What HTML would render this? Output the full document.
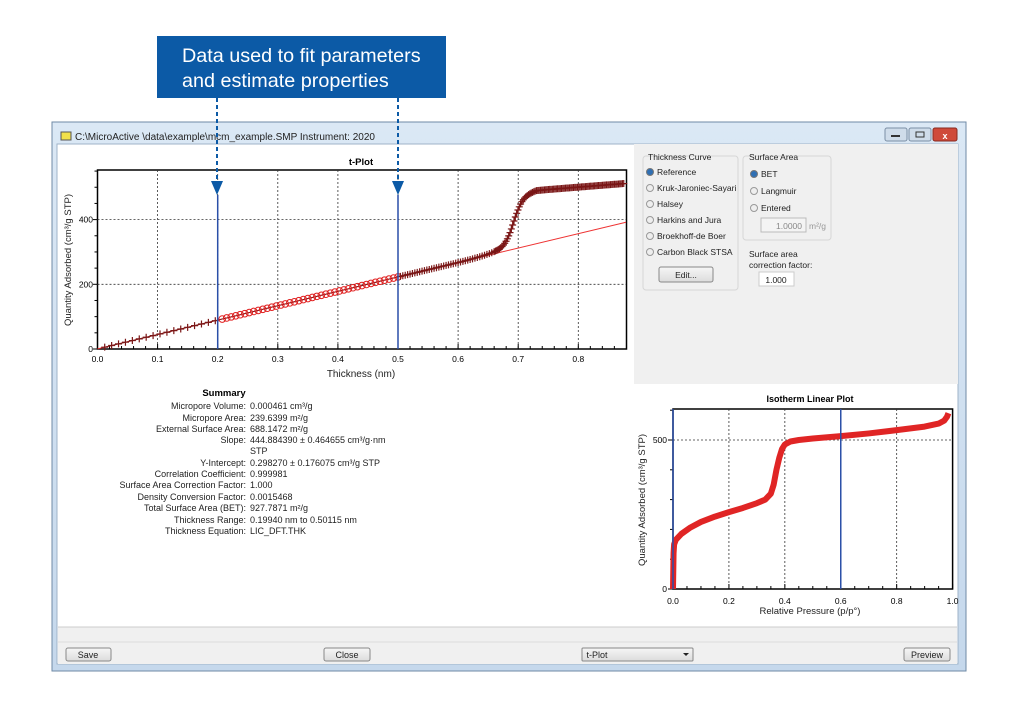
<!DOCTYPE html>
<html><head><meta charset="utf-8"><style>
html,body{margin:0;padding:0;background:#fff;}
body{width:1018px;height:707px;position:relative;overflow:hidden;font-family:"Liberation Sans",Arial,sans-serif;}
svg{position:absolute;left:0;top:0;}
</style></head><body>
<svg id="s" width="1018" height="707" viewBox="0 0 1018 707" font-family="Liberation Sans, Arial, sans-serif">
<defs>
<linearGradient id="tb" x1="0" y1="0" x2="0" y2="1"><stop offset="0" stop-color="#dbe8f5"/><stop offset="1" stop-color="#c5d8ec"/></linearGradient>
<linearGradient id="btn" x1="0" y1="0" x2="0" y2="1"><stop offset="0" stop-color="#f6f6f6"/><stop offset="1" stop-color="#dcdcdc"/></linearGradient>
</defs>
<!-- window -->
<rect x="52" y="122" width="914" height="549" fill="url(#tb)" stroke="#6f8aa6"/>
<rect x="57" y="144" width="901" height="520" fill="#fff" stroke="#9fb3c8"/>
<rect x="61" y="132" width="10" height="8" fill="#f2e04a" stroke="#555" stroke-width="1"/>
<text x="75" y="140" font-size="10" fill="#222">C:\MicroActive \data\example\mcm_example.SMP Instrument: 2020</text>
<rect x="885" y="128" width="22" height="13" rx="2" fill="#cfdcea" stroke="#7b8fa5"/>
<rect x="909" y="128" width="22" height="13" rx="2" fill="#cfdcea" stroke="#7b8fa5"/>
<rect x="933" y="128" width="24" height="13" rx="2" fill="#cf4a3a" stroke="#8a2a20"/>
<rect x="891" y="135" width="9" height="2" fill="#333"/>
<rect x="916" y="132" width="8" height="5" fill="none" stroke="#333"/>
<text x="945" y="139" font-size="9" fill="#fff" text-anchor="middle" font-weight="bold">x</text>
<!-- right panel -->
<rect x="634" y="144" width="324" height="240" fill="#f0f0f0"/>
<rect x="643" y="156" width="95" height="134" rx="3" fill="none" stroke="#d6d6d6"/>
<text x="648" y="160" font-size="8.5" fill="#222">Thickness Curve</text>
<rect x="743" y="156" width="88" height="84" rx="3" fill="none" stroke="#d6d6d6"/>
<text x="749" y="160" font-size="8.5" fill="#222">Surface Area</text>
<g font-size="8.5" fill="#222">
<circle cx="650" cy="172" r="3.5" fill="#2f6fb3" stroke="#777"/><text x="657" y="175">Reference</text>
<circle cx="650" cy="188" r="3.5" fill="#eee" stroke="#999"/><text x="657" y="191">Kruk-Jaroniec-Sayari</text>
<circle cx="650" cy="204" r="3.5" fill="#eee" stroke="#999"/><text x="657" y="207">Halsey</text>
<circle cx="650" cy="220" r="3.5" fill="#eee" stroke="#999"/><text x="657" y="223">Harkins and Jura</text>
<circle cx="650" cy="236" r="3.5" fill="#eee" stroke="#999"/><text x="657" y="239">Broekhoff-de Boer</text>
<circle cx="650" cy="252" r="3.5" fill="#eee" stroke="#999"/><text x="657" y="255">Carbon Black STSA</text>
<rect x="659" y="267" width="54" height="15" rx="2" fill="url(#btn)" stroke="#888"/><text x="686" y="278" text-anchor="middle">Edit...</text>
<circle cx="754" cy="174" r="3.5" fill="#2f6fb3" stroke="#777"/><text x="761" y="177">BET</text>
<circle cx="754" cy="191" r="3.5" fill="#eee" stroke="#999"/><text x="761" y="194">Langmuir</text>
<circle cx="754" cy="208" r="3.5" fill="#eee" stroke="#999"/><text x="761" y="211">Entered</text>
<rect x="761" y="218" width="45" height="14" fill="#f4f4f4" stroke="#bbb"/><text x="802" y="229" text-anchor="end" fill="#888">1.0000</text><text x="809" y="229" fill="#999">m²/g</text>
<text x="749" y="257">Surface area</text><text x="749" y="268">correction factor:</text>
<rect x="759" y="272" width="35" height="14" fill="#fff" stroke="#ccc"/><text x="776" y="283" text-anchor="middle">1.000</text>
</g>
<!-- t-plot -->
<text x="361" y="165" font-size="9.5" font-weight="bold" text-anchor="middle">t-Plot</text>
<g id="tp"></g>
<text x="361" y="377" font-size="10" text-anchor="middle" fill="#222">Thickness (nm)</text>
<text transform="translate(71,260) rotate(-90)" font-size="9.5" text-anchor="middle" fill="#222">Quantity Adsorbed (cm³/g STP)</text>
<!-- isotherm -->
<text x="810" y="402" font-size="9" font-weight="bold" text-anchor="middle">Isotherm Linear Plot</text>
<g id="ip"></g>
<text x="810" y="614" font-size="9.5" text-anchor="middle" fill="#222">Relative Pressure (p/p°)</text>
<text transform="translate(645,500) rotate(-90)" font-size="9.5" text-anchor="middle" fill="#222">Quantity Adsorbed (cm³/g STP)</text>
<!-- summary -->
<text x="224" y="396" font-size="9.5" font-weight="bold" text-anchor="middle">Summary</text>
<g font-size="9" fill="#222">
<g text-anchor="end">
<text x="246" y="409">Micropore Volume:</text>
<text x="246" y="421">Micropore Area:</text>
<text x="246" y="432">External Surface Area:</text>
<text x="246" y="443">Slope:</text>
<text x="246" y="466">Y-Intercept:</text>
<text x="246" y="477">Correlation Coefficient:</text>
<text x="246" y="488">Surface Area Correction Factor:</text>
<text x="246" y="500">Density Conversion Factor:</text>
<text x="246" y="511">Total Surface Area (BET):</text>
<text x="246" y="523">Thickness Range:</text>
<text x="246" y="534">Thickness Equation:</text>
</g>
<text x="250" y="409">0.000461 cm³/g</text>
<text x="250" y="421">239.6399 m²/g</text>
<text x="250" y="432">688.1472 m²/g</text>
<text x="250" y="443">444.884390 ± 0.464655 cm³/g·nm</text>
<text x="250" y="454">STP</text>
<text x="250" y="466">0.298270 ± 0.176075 cm³/g STP</text>
<text x="250" y="477">0.999981</text>
<text x="250" y="488">1.000</text>
<text x="250" y="500">0.0015468</text>
<text x="250" y="511">927.7871 m²/g</text>
<text x="250" y="523">0.19940 nm to 0.50115 nm</text>
<text x="250" y="534">LIC_DFT.THK</text>
</g>
<!-- bottom -->
<rect x="58" y="627" width="899" height="37" fill="#f0f0f0"/>
<line x1="58" y1="627" x2="957" y2="627" stroke="#ccc"/>
<line x1="58" y1="642" x2="957" y2="642" stroke="#ddd"/>
<g font-size="9" fill="#222" text-anchor="middle">
<rect x="66" y="648" width="45" height="13" rx="2" fill="url(#btn)" stroke="#888"/><text x="88" y="658">Save</text>
<rect x="324" y="648" width="46" height="13" rx="2" fill="url(#btn)" stroke="#888"/><text x="347" y="658">Close</text>
<rect x="582" y="648" width="111" height="13" rx="1" fill="url(#btn)" stroke="#888"/><text x="597" y="658">t-Plot</text><path d="M683 653 l6 0 l-3 3z" fill="#222"/>
<rect x="904" y="648" width="46" height="13" rx="2" fill="url(#btn)" stroke="#888"/><text x="927" y="658">Preview</text>
</g>
<!-- callout -->
<rect x="157" y="36" width="289" height="62" fill="#0c5aa6"/>
<text x="182" y="62" font-size="19.8" fill="#fff">Data used to fit parameters</text>
<text x="182" y="87" font-size="19.8" fill="#fff">and estimate properties</text>
<g stroke="#0c5aa6" stroke-width="2" stroke-dasharray="4,3"><line x1="217" y1="98" x2="217" y2="183"/><line x1="398" y1="98" x2="398" y2="183"/></g>
<path d="M211 181 l12 0 l-6 14z M392 181 l12 0 l-6 14z" fill="#0c5aa6"/>
</svg>
<script>
var NS="http://www.w3.org/2000/svg";
function el(p,t,a){var e=document.createElementNS(NS,t);for(var k in a)e.setAttribute(k,a[k]);p.appendChild(e);return e;}
var tp=document.getElementById('tp');
var X=function(t){return 97.5+t*601;},Y=function(v){return 349-v*0.3235;};
el(tp,'rect',{x:97.5,y:170,width:529,height:179,fill:'#fff',stroke:'#000','stroke-width':1.5});
for(var i=1;i<=8;i++){el(tp,'line',{x1:X(i/10),y1:170,x2:X(i/10),y2:349,stroke:'#333','stroke-dasharray':'2,2','stroke-width':0.8});}
[200,400].forEach(function(v){el(tp,'line',{x1:97.5,y1:Y(v),x2:626,y2:Y(v),stroke:'#333','stroke-dasharray':'2,2','stroke-width':0.8});});
for(var i=0;i<=8;i++){el(tp,'text',{x:X(i/10),y:362,'font-size':8.5,'text-anchor':'middle'}).textContent=(i/10).toFixed(1);
 for(var j=0;j<5;j++){var xx=X(i/10+j*0.02);if(xx<626)el(tp,'line',{x1:xx,y1:349,x2:xx,y2:j?346:344,stroke:'#000'});}}
[0,200,400].forEach(function(v){el(tp,'text',{x:93,y:Y(v)+3,'font-size':8.5,'text-anchor':'end'}).textContent=v;});
for(var v=0;v<=550;v+=50)el(tp,'line',{x1:97.5,y1:Y(v),x2:v%200?94.5:93,y2:Y(v),stroke:'#000'});
el(tp,'line',{x1:X(0),y1:Y(0.3),x2:626,y2:Y(0.3+444.88*0.88),stroke:'#e33','stroke-width':1});
function tv(t){var l=0.3+444.88*t;if(t<0.6)return l;
 var d=t-0.6;var base=l+1500*d*d;
 var s=1/(1+Math.exp(-(t-0.693)/0.007));
 var hi=t>0.73?490+(t-0.73)*147:470+(t-0.70)*670; if(hi<470)hi=470;
 return base*(1-s)+Math.max(hi,base)*s;}
var pts=[];
for(var t=0.012;t<=0.876;t+=(t<0.2?0.0115:(t<0.5?0.0075:(t<0.66?0.004:0.0022)))){pts.push([t,tv(t)]);}
el(tp,'polyline',{points:pts.map(function(p){return X(p[0])+','+Y(p[1]);}).join(' '),fill:'none',stroke:'#7a1616','stroke-width':1});
pts.forEach(function(p){var x=X(p[0]),y=Y(p[1]);
 if(p[0]>=0.199&&p[0]<=0.502)el(tp,'circle',{cx:x,cy:y,r:3.3,fill:'none',stroke:'#e02020','stroke-width':1});
 else el(tp,'path',{d:'M'+(x-3.5)+' '+y+'h7M'+x+' '+(y-3.5)+'v7',stroke:'#7a1616','stroke-width':1.2});});
el(tp,'line',{x1:X(0.2),y1:195,x2:X(0.2),y2:349,stroke:'#2a4fa8','stroke-width':1.5});
el(tp,'line',{x1:X(0.5),y1:195,x2:X(0.5),y2:349,stroke:'#2a4fa8','stroke-width':1.5});
var ip=document.getElementById('ip');
var PX=function(p){return 673+p*279.6;},PY=function(v){return 589-v*0.298;};
el(ip,'rect',{x:673,y:409,width:279.6,height:180,fill:'#fff',stroke:'#000','stroke-width':1.5});
[0.2,0.4,0.8].forEach(function(p){el(ip,'line',{x1:PX(p),y1:409,x2:PX(p),y2:589,stroke:'#333','stroke-dasharray':'2,2','stroke-width':0.8});});
el(ip,'line',{x1:673,y1:PY(500),x2:952,y2:PY(500),stroke:'#333','stroke-dasharray':'2,2','stroke-width':0.8});
for(var i=0;i<=5;i++){el(ip,'text',{x:PX(i/5),y:604,'font-size':8.5,'text-anchor':'middle'}).textContent=(i/5).toFixed(1);}
for(var i=0;i<=20;i++)el(ip,'line',{x1:PX(i/20),y1:589,x2:PX(i/20),y2:i%4?586:584,stroke:'#000'});
for(var v=0;v<=600;v+=100)el(ip,'line',{x1:673,y1:PY(v),x2:v%500?670:668,y2:PY(v),stroke:'#000'});
el(ip,'text',{x:667,y:PY(500)+3,'font-size':8.5,'text-anchor':'end'}).textContent='500';
el(ip,'text',{x:667,y:592,'font-size':8.5,'text-anchor':'end'}).textContent='0';
var iso=[[0,0],[0.001,60],[0.002,120],[0.004,150],[0.01,165],[0.03,185],[0.06,205],[0.1,225],[0.15,243],[0.2,258],[0.25,272],[0.3,288],[0.33,300],[0.35,320],[0.36,350],[0.37,400],[0.38,440],[0.39,470],[0.40,485],[0.42,495],[0.45,500],[0.5,505],[0.6,513],[0.7,522],[0.8,533],[0.9,545],[0.95,555],[0.97,565],[0.98,578],[0.985,590]];
el(ip,'polyline',{points:iso.map(function(p){return PX(p[0])+','+PY(p[1]);}).join(' '),fill:'none',stroke:'#e02525','stroke-width':6,'stroke-linejoin':'round'});
el(ip,'line',{x1:PX(0),y1:409,x2:PX(0),y2:589,stroke:'#2a4fa8','stroke-width':1.5});
el(ip,'line',{x1:PX(0.6),y1:409,x2:PX(0.6),y2:589,stroke:'#2a4fa8','stroke-width':1.5});
</script>
</body></html>
